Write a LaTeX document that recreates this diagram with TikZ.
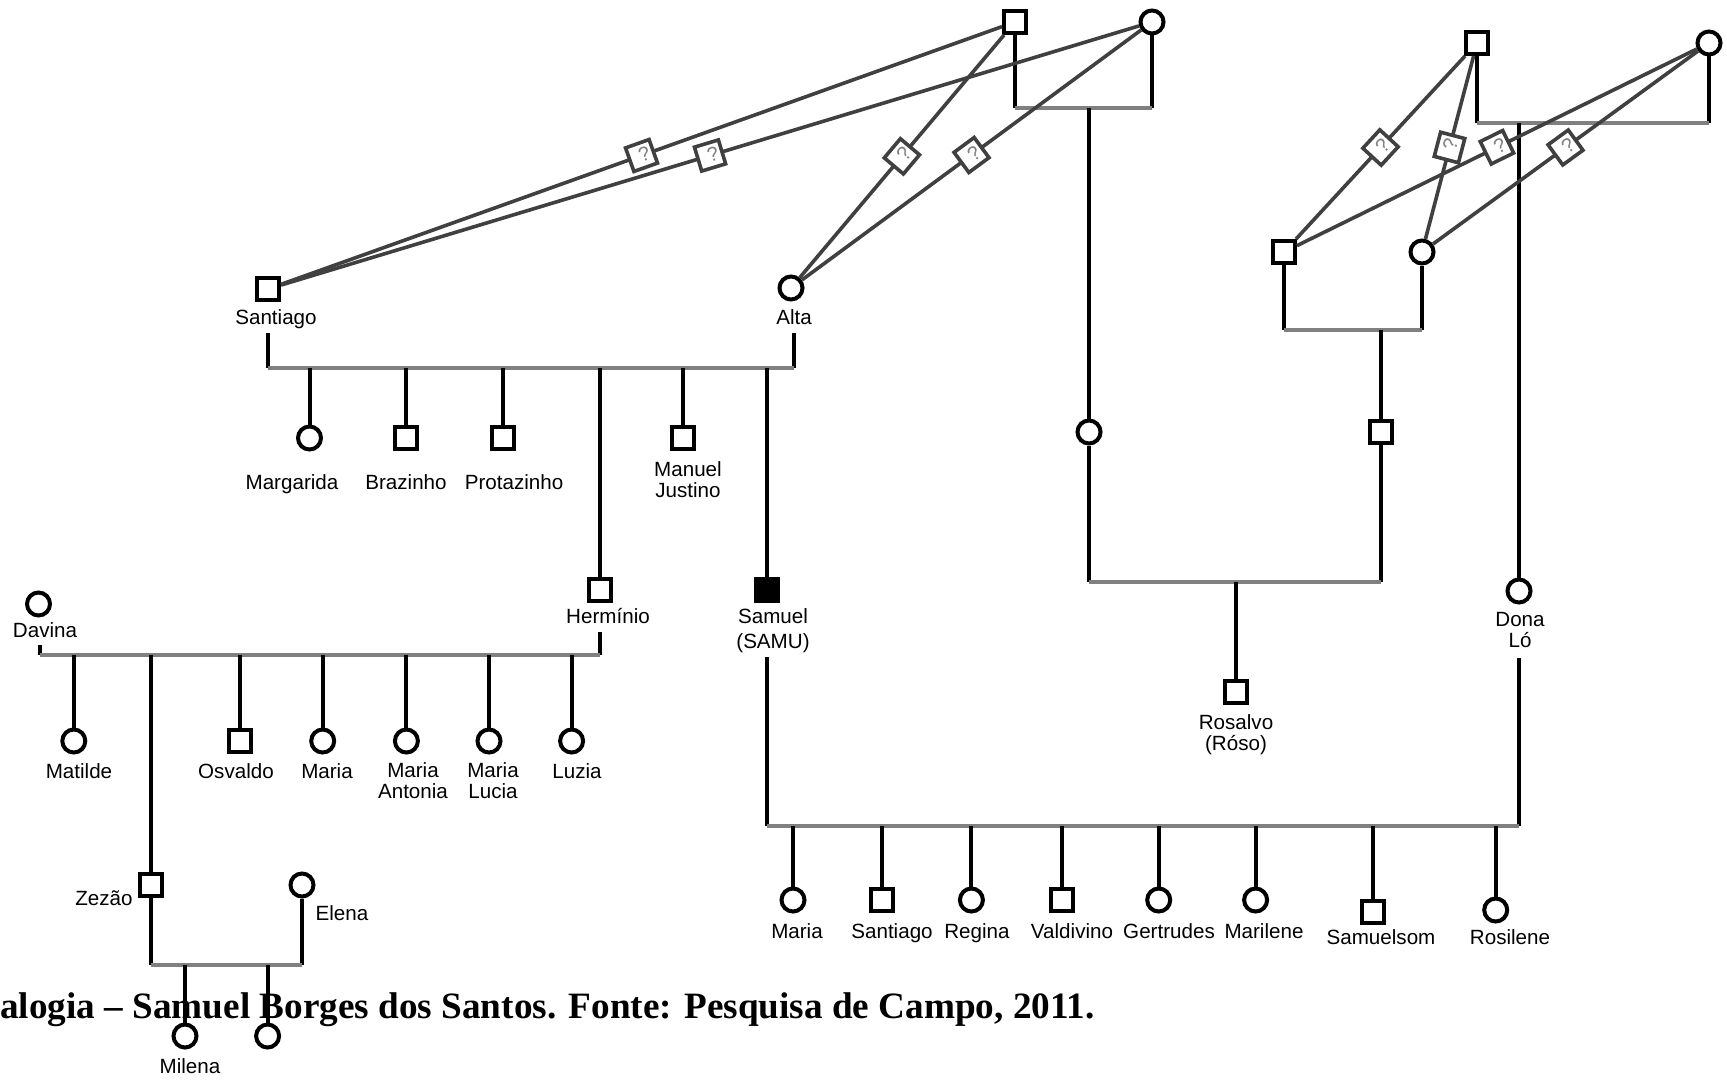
\documentclass[tikz,border=0pt]{standalone}
\usepackage{fontspec}
\setmainfont{Liberation Sans}
\newfontfamily\capfont{Liberation Serif}
\definecolor{lgray}{HTML}{808080}
\definecolor{dgray}{HTML}{404040}
\begin{document}
\begin{tikzpicture}[x=0.5pt,y=-0.5pt,
  sq/.style={draw=black,fill=white,line width=2pt,minimum size=11pt,inner sep=0pt,rectangle},
  ci/.style={draw=black,fill=white,line width=2pt,minimum size=11.5pt,inner sep=0pt,circle},
  af/.style={sq,fill=black},
  lbl/.style={font=\fontsize{10.3}{10.5}\selectfont,inner sep=0pt,anchor=base,align=center},
  desc/.style={line width=2pt,black},
  mar/.style={line width=2pt,lgray},
  rel/.style={line width=1.8pt,dgray},
  qbox/.style={draw=dgray,fill=white,line width=1.8pt,minimum size=12.5pt,inner sep=0pt,sloped,font=\fontsize{10}{10}\selectfont,text=gray}
]
\useasboundingbox[fill=white] (0,0) rectangle (1727,1081);

% ---- symbols ----
\node[sq] (sq1) at (1015,22) {};
\node[ci] (ci1) at (1152,22) {};
\node[sq] (sq2) at (1477,43) {};
\node[ci] (ci2) at (1709,43) {};
\node[sq] (santiago) at (268,289) {};
\node[ci] (alta) at (791,288) {};
\node[sq] (sq3) at (1284,252) {};
\node[ci] (ci3) at (1422,252) {};
\node[ci] (ci4) at (1089,432) {};
\node[sq] (sq4) at (1381,432) {};
\node[ci] (margarida) at (309.5,438) {};
\node[sq] (brazinho) at (406.4,438) {};
\node[sq] (protazinho) at (503.3,438) {};
\node[sq] (herminio) at (600.3,590) {};
\node[sq] (manuel) at (682.9,438) {};
\node[af] (samuel) at (766.6,590) {};
\node[sq] (rosalvo) at (1236,692) {};
\node[ci] (donalo) at (1519,591) {};
\node[ci] (davina) at (38.5,604) {};
\node[ci] (matilde) at (73.8,741) {};
\node[sq] (zezao) at (150.9,885) {};
\node[sq] (osvaldo) at (240.1,741) {};
\node[ci] (maria) at (322.7,741) {};
\node[ci] (mantonia) at (406.4,741) {};
\node[ci] (mlucia) at (489,741) {};
\node[ci] (luzia) at (571.6,741) {};
\node[ci] (elena) at (302,885) {};
\node[ci] (milena) at (185,1036) {};
\node[ci] (milenb) at (267.6,1036) {};
\node[ci] (bmaria) at (793,900) {};
\node[sq] (bsantiago) at (882.2,900) {};
\node[ci] (bregina) at (971.4,900) {};
\node[sq] (bvaldivino) at (1061.7,900) {};
\node[ci] (bgertrudes) at (1158.7,900) {};
\node[ci] (bmarilene) at (1255.6,900) {};
\node[sq] (bsamuelsom) at (1373.4,912) {};
\node[ci] (brosilene) at (1495.7,910) {};

% ---- labels (base = last line) ----
\node[lbl] (lsantiago) at (276,324) {Santiago};
\node[lbl] (lalta) at (794,324) {Alta};
\node[lbl] (lmargarida) at (292,489) {Margarida};
\node[lbl] (lbrazinho) at (406,489) {Brazinho};
\node[lbl] (lprotazinho) at (514,489) {Protazinho};
\node[lbl] (lmanuel) at (688,497) {Manuel\\Justino};
\node[lbl] (lherminio) at (608,623) {Hermínio};
\node[lbl] (lsamuel) at (773,648) {Samuel\\[2pt](SAMU)};
\node[lbl] (lrosalvo) at (1236,750) {Rosalvo\\(Róso)};
\node[lbl] (ldonalo) at (1520,647) {Dona\\Ló};
\node[lbl] (ldavina) at (45,637) {Davina};
\node[lbl] (lmatilde) at (79,778) {Matilde};
\node[lbl] (losvaldo) at (236,778) {Osvaldo};
\node[lbl] (lmaria) at (327,778) {Maria};
\node[lbl] (lmantonia) at (413,798) {Maria\\Antonia};
\node[lbl] (lmlucia) at (493,798) {Maria\\Lucia};
\node[lbl] (lluzia) at (577,778) {Luzia};
\node[lbl] (lzezao) at (104,905) {Zezão};
\node[lbl] (lelena) at (342,920) {Elena};
\node[lbl] (lmilena) at (190,1073) {Milena};
\node[lbl] (lbmaria) at (797,938) {Maria};
\node[lbl] (lbsantiago) at (892,938) {Santiago};
\node[lbl] (lbregina) at (977,938) {Regina};
\node[lbl] (lbvaldivino) at (1072,938) {Valdivino};
\node[lbl] (lbgertrudes) at (1169,938) {Gertrudes};
\node[lbl] (lbmarilene) at (1264,938) {Marilene};
\node[lbl] (lbsamuelsom) at (1381,944) {Samuelsom};
\node[lbl] (lbrosilene) at (1510,944) {Rosilene};

% ---- junctions ----
\coordinate (j1a) at (1015,108); \coordinate (j1b) at (1152,108); \coordinate (j1c) at (1089,108);
\coordinate (j2a) at (1477,123); \coordinate (j2b) at (1709,123); \coordinate (j2c) at (1519,123);
\coordinate (j3a) at (1284,330); \coordinate (j3b) at (1422,330); \coordinate (j3c) at (1381,330);
\coordinate (j4a) at (1089,581.5); \coordinate (j4b) at (1381,581.5); \coordinate (j4c) at (1236,581.5);
\coordinate (s5a) at (268,333); \coordinate (j5a) at (268,368);
\coordinate (a5a) at (794,333); \coordinate (j5b) at (794,368);
\coordinate (d6a) at (39.6,645); \coordinate (j6a) at (39.6,655);
\coordinate (h6a) at (600.3,632); \coordinate (j6b) at (600.3,655);
\coordinate (j7a) at (150.9,965); \coordinate (j7b) at (302,965);
\coordinate (s8a) at (766.6,657); \coordinate (j8a) at (766.6,826);
\coordinate (d8a) at (1519,658); \coordinate (j8b) at (1519,826);

% ---- couples ----
\draw[desc] (sq1) -- (j1a); \draw[desc] (ci1) -- (j1b); \draw[mar] (j1a) -- (j1b);
\draw[desc] (j1c) -- (ci4);
\draw[desc] (sq2) -- (j2a); \draw[desc] (ci2) -- (j2b); \draw[mar] (j2a) -- (j2b);
\draw[desc] (j2c) -- (donalo);
\draw[desc] (sq3) -- (j3a); \draw[desc] (ci3) -- (j3b); \draw[mar] (j3a) -- (j3b);
\draw[desc] (j3c) -- (sq4);
\draw[desc] (ci4) -- (j4a); \draw[desc] (sq4) -- (j4b); \draw[mar] (j4a) -- (j4b);
\draw[desc] (j4c) -- (rosalvo);
\draw[desc] (s5a) -- (j5a); \draw[desc] (a5a) -- (j5b); \draw[mar] (j5a) -- (j5b);
\foreach \c in {margarida,brazinho,protazinho,herminio,manuel,samuel}
  \draw[desc] (\c |- j5a) -- (\c);
\draw[desc] (d6a) -- (j6a); \draw[desc] (h6a) -- (j6b); \draw[mar] (j6a) -- (j6b);
\foreach \c in {matilde,zezao,osvaldo,maria,mantonia,mlucia,luzia}
  \draw[desc] (\c |- j6a) -- (\c);
\draw[desc] (zezao) -- (j7a); \draw[desc] (elena) -- (j7b); \draw[mar] (j7a) -- (j7b);
\foreach \c in {milena,milenb}
  \draw[desc] (\c |- j7a) -- (\c);
\draw[desc] (s8a) -- (j8a); \draw[desc] (d8a) -- (j8b); \draw[mar] (j8a) -- (j8b);
\foreach \c in {bmaria,bsantiago,bregina,bvaldivino,bgertrudes,bmarilene,bsamuelsom,brosilene}
  \draw[desc] (\c |- j8a) -- (\c);

% ---- uncertain relations ----
\draw[rel] (sq1) -- node[qbox] (q1) {\hspace*{3pt}\raisebox{-1.5pt}{?}} (santiago);
\draw[rel] (ci1) -- node[qbox] (q2) {\hspace*{3pt}\raisebox{-1.5pt}{?}} (santiago);
\draw[rel] (sq1) -- node[qbox] (q3) {\hspace*{3pt}\raisebox{-1.5pt}{?}} (alta);
\draw[rel] (ci1) -- node[qbox] (q4) {\hspace*{3pt}\raisebox{-1.5pt}{?}} (alta);
\draw[rel] (sq2) -- node[qbox] (q5) {\hspace*{3pt}\raisebox{-1.5pt}{?}} (sq3);
\draw[rel] (sq2) -- node[qbox] (q6) {\hspace*{3pt}\raisebox{-1.5pt}{?}} (ci3);
\draw[rel] (ci2) -- node[qbox] (q7) {\hspace*{3pt}\raisebox{-1.5pt}{?}} (sq3);
\draw[rel] (ci2) -- node[qbox] (q8) {\hspace*{3pt}\raisebox{-1.5pt}{?}} (ci3);

% ---- caption ----
\node[anchor=base west,inner sep=0pt,font=\capfont\bfseries\fontsize{18.6}{20}\selectfont] (caption) at (0,1018)
  {alogia – Samuel Borges dos Santos. Fonte: Pesquisa de Campo, 2011.};
\end{tikzpicture}
\end{document}
